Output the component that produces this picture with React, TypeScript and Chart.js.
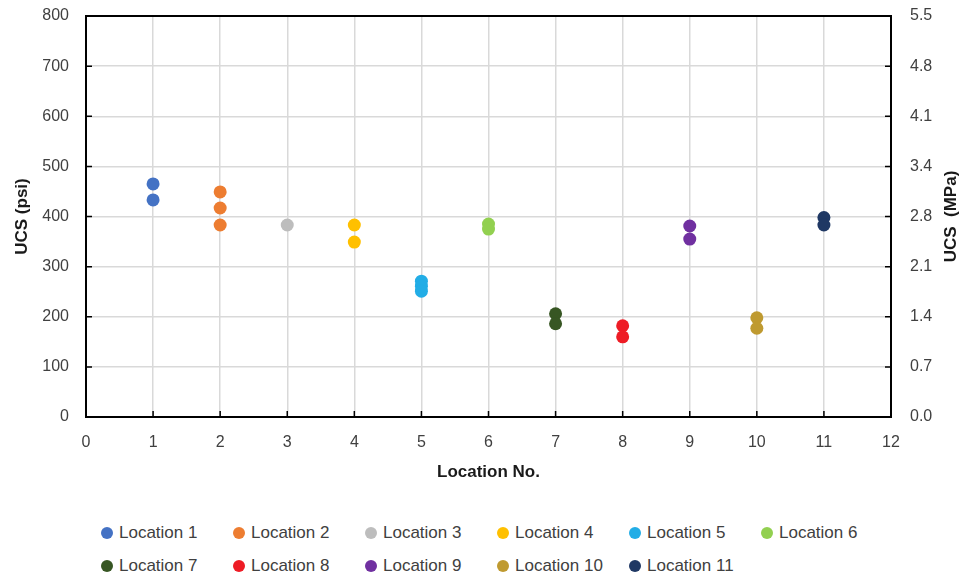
import React, { useEffect, useRef } from "react";
import { Chart, registerables } from "chart.js";

Chart.register(...registerables);

// ---- data ----
const locationLabels = [
  "Location 1", "Location 2", "Location 3", "Location 4", "Location 5", "Location 6",
  "Location 7", "Location 8", "Location 9", "Location 10", "Location 11",
];
const locationNumbers = [1, 2, 3, 4, 5, 6, 7, 8, 9, 10, 11];
const ucsLoc1 = [465, 433];
const ucsLoc2 = [449, 417, 383];
const ucsLoc3 = [383];
const ucsLoc4 = [383, 349];
const ucsLoc5 = [271, 261, 251];
const ucsLoc6 = [385, 375];
const ucsLoc7 = [206, 186];
const ucsLoc8 = [182, 160];
const ucsLoc9 = [381, 355];
const ucsLoc10 = [198, 177];
const ucsLoc11 = [398, 383];
const ucsByLocation = [
  ucsLoc1, ucsLoc2, ucsLoc3, ucsLoc4, ucsLoc5, ucsLoc6,
  ucsLoc7, ucsLoc8, ucsLoc9, ucsLoc10, ucsLoc11,
];
const locationColors = [
  "#4472C4", "#ED7D31", "#BDBDBD", "#FFC000", "#22ADE6", "#92D050",
  "#375623", "#EE1C25", "#7030A0", "#BF9A30", "#1F3864",
];
const mpaTickLabels = ["0.0", "0.7", "1.4", "2.1", "2.8", "3.4", "4.1", "4.8", "5.5"];

const FONT = "'Liberation Sans', Arial, sans-serif";
const TICK_COLOR = "#404040";

const framePlugin = {
  id: "frameAndTicks",
  afterDatasetsDraw(chart: any) {
    const { ctx, chartArea } = chart;
    const { left, right, top, bottom } = chartArea;
    const xs = chart.scales.x;
    const ys = chart.scales.y;
    ctx.save();
    ctx.strokeStyle = "#000000";
    ctx.lineWidth = 1.5;
    ctx.beginPath();
    xs.ticks.forEach((t: any) => {
      const px = xs.getPixelForValue(t.value);
      ctx.moveTo(px, bottom);
      ctx.lineTo(px, bottom - 6);
    });
    ys.ticks.forEach((t: any) => {
      const py = ys.getPixelForValue(t.value);
      ctx.moveTo(left, py);
      ctx.lineTo(left + 6, py);
      ctx.moveTo(right, py);
      ctx.lineTo(right - 6, py);
    });
    ctx.stroke();
    ctx.lineWidth = 2;
    ctx.strokeRect(left, top, right - left, bottom - top);
    // right axis title (reads bottom-to-top)
    ctx.fillStyle = "#1a1a1a";
    ctx.font = `bold 17px ${FONT}`;
    ctx.textAlign = "center";
    ctx.textBaseline = "middle";
    ctx.translate(951, (top + bottom) / 2);
    ctx.rotate(-Math.PI / 2);
    ctx.fillText("UCS  (MPa)", 0, 0);
    ctx.restore();
  },
};

export default function App() {
  const canvasRef = useRef<HTMLCanvasElement | null>(null);

  useEffect(() => {
    if (!canvasRef.current) return;
    const datasets = ucsByLocation.map((vals, i) => ({
      label: locationLabels[i],
      data: vals.map((v) => ({ x: locationNumbers[i], y: v })),
      backgroundColor: locationColors[i],
      borderColor: locationColors[i],
      borderWidth: 0,
      pointRadius: 6.5,
      pointHoverRadius: 6.5,
      showLine: false,
    }));
    const chart = new Chart(canvasRef.current, {
      type: "scatter",
      data: { datasets },
      plugins: [framePlugin],
      options: {
        animation: false,
        responsive: false,
        devicePixelRatio: 1,
        layout: { padding: { top: 16, left: 0, right: 0, bottom: 0 } },
        plugins: { legend: { display: false }, tooltip: { enabled: false } },
        scales: {
          x: {
            type: "linear",
            min: 0,
            max: 12,
            ticks: { stepSize: 1, color: TICK_COLOR, font: { family: FONT, size: 16 }, padding: 16 },
            grid: { color: "#D9D9D9", lineWidth: 1.5, drawTicks: false },
            border: { display: false },
            title: {
              display: true,
              text: "Location No.",
              color: "#1a1a1a",
              font: { family: FONT, size: 17, weight: "bold" },
              padding: { top: 0, bottom: 17 },
            },
            afterFit: (s: any) => { s.height = 83; s.paddingLeft = 0; s.paddingRight = 0; },
          },
          y: {
            type: "linear",
            position: "left",
            min: 0,
            max: 800,
            ticks: { stepSize: 100, color: TICK_COLOR, font: { family: FONT, size: 16 }, padding: 17 },
            grid: { color: "#D9D9D9", lineWidth: 1.5, drawTicks: false },
            border: { display: false },
            title: {
              display: true,
              text: "UCS (psi)",
              color: "#1a1a1a",
              font: { family: FONT, size: 17, weight: "bold" },
              padding: { top: 12, bottom: 0 },
            },
            afterFit: (s: any) => { s.width = 86; s.paddingTop = 0; s.paddingBottom = 0; },
          },
          y2: {
            type: "linear",
            position: "right",
            min: 0,
            max: 800,
            ticks: {
              stepSize: 100,
              color: TICK_COLOR,
              font: { family: FONT, size: 16 },
              padding: 19,
              callback: (_v: any, idx: number) => mpaTickLabels[idx],
            },
            grid: { display: false, drawTicks: false },
            border: { display: false },
            afterFit: (s: any) => { s.width = 75; s.paddingTop = 0; s.paddingBottom = 0; },
          },
        },
      },
    } as any);
    return () => chart.destroy();
  }, []);

  return (
    <div style={{ position: "absolute", left: 0, top: 0, width: 966, height: 577, background: "#fff" }}>
      <canvas ref={canvasRef} width={966} height={500} style={{ display: "block", width: 966, height: 500 }} />
      <div
        style={{
          position: "absolute",
          left: 101,
          top: 516,
          display: "grid",
          gridTemplateColumns: "repeat(6, 132px)",
          gridAutoRows: "33px",
          fontFamily: FONT,
          fontSize: 17,
          color: TICK_COLOR,
        }}
      >
        {locationLabels.map((lab, i) => (
          <div key={lab} style={{ display: "flex", alignItems: "center", whiteSpace: "nowrap" }}>
            <span
              style={{
                display: "inline-block",
                width: 12,
                height: 12,
                borderRadius: "50%",
                background: locationColors[i],
                marginRight: 6,
              }}
            />
            <span>{lab}</span>
          </div>
        ))}
      </div>
    </div>
  );
}
